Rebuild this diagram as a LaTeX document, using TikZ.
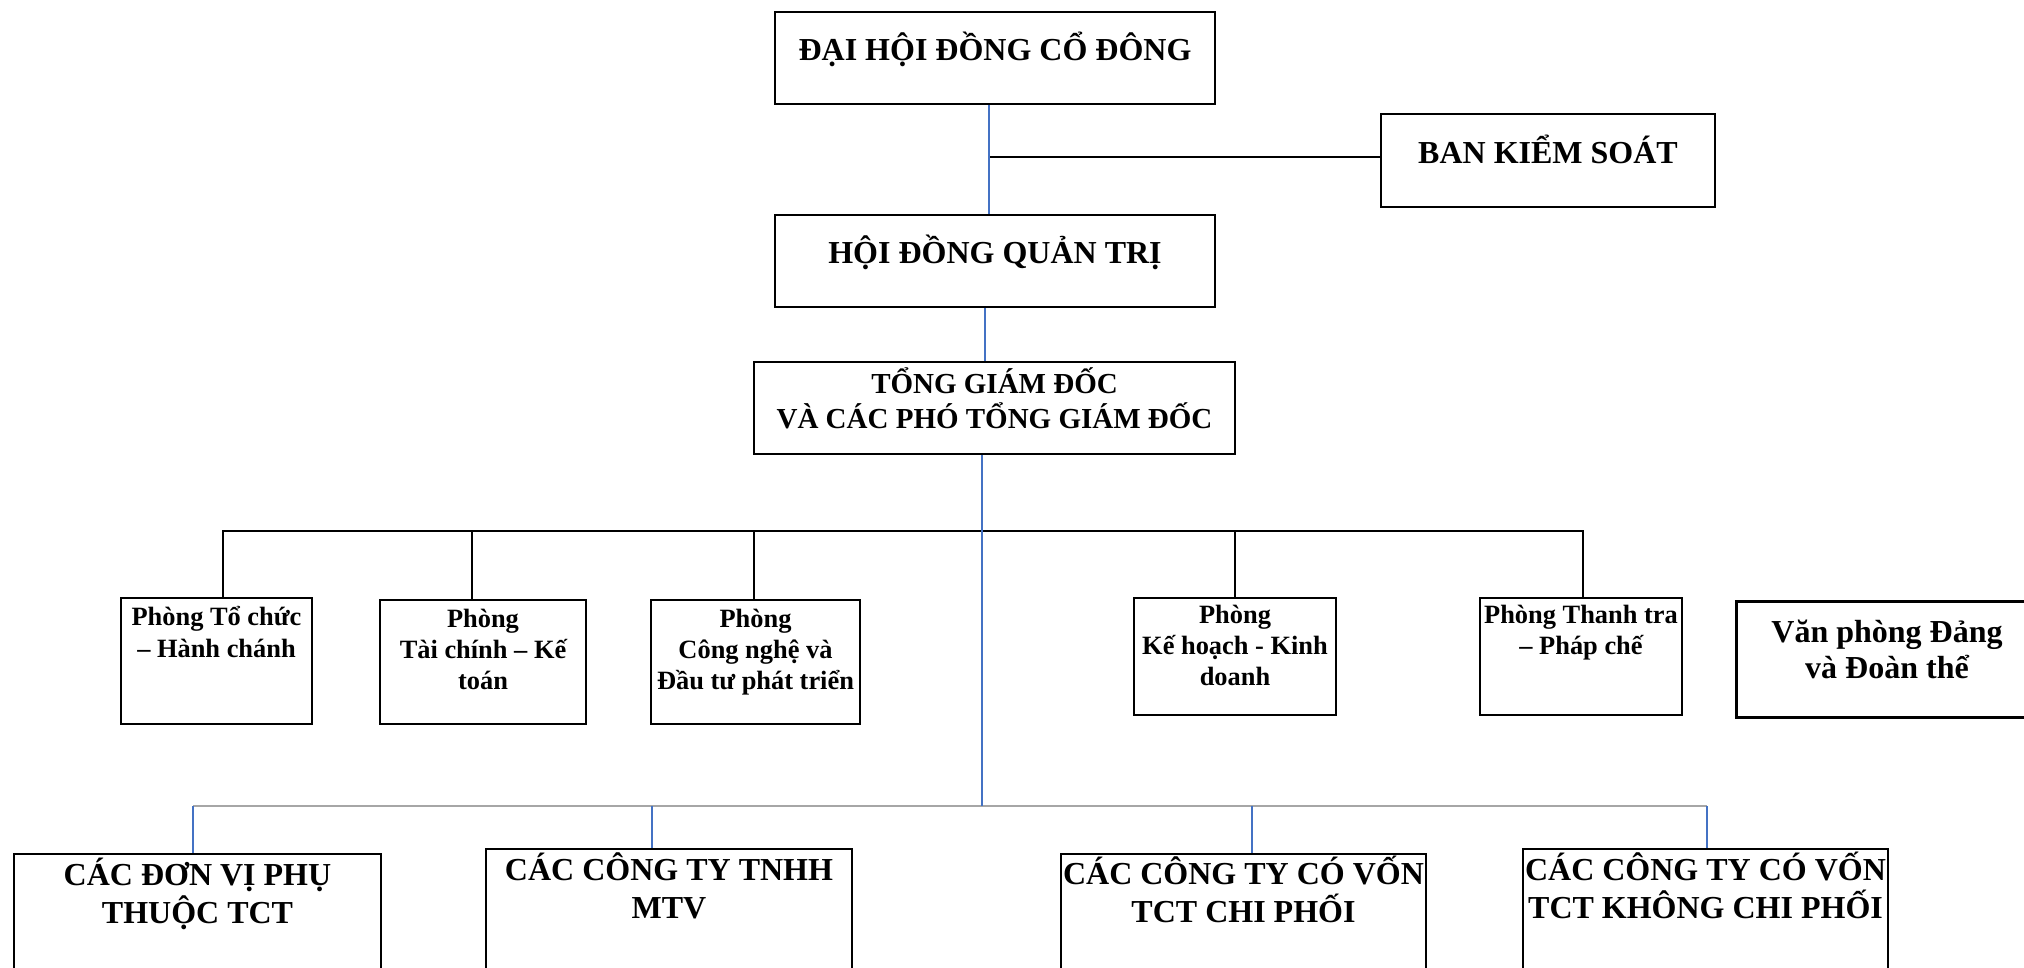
\documentclass[tikz,border=0pt]{standalone}
\usepackage{fontspec}
\setmainfont{Liberation Serif}
\usetikzlibrary{calc}
\definecolor{cblue}{HTML}{4472C4}
\definecolor{cgray}{HTML}{A6A6A6}
\tikzset{
  orgbox/.style={draw=black, line width=1pt, inner sep=0pt},
  lbl/.style={inner sep=0pt, align=center, anchor=north},
  blueline/.style={draw=cblue, line width=1pt},
  blackline/.style={draw=black, line width=1.1pt},
  grayline/.style={draw=cgray, line width=1.4pt},
}
% name, x1, y1, x2, y2 (pixels)
\newcommand{\mkbox}[6][]{%
  \node[orgbox,#1,minimum width={(#5-#3)*0.5pt},minimum height={(#6-#4)*0.5pt}] (#2) at ({(#3+#5)/2},{(#4+#6)/2}) {};}
% name, cx, baseline y (px), font size pt, skip pt, text
\newcommand{\mktext}[6]{%
  \node[lbl,font=\bfseries\fontsize{#4}{#5}\selectfont] (#1) at (#2,{#3-2.5*#4}) {\rule{0pt}{1.25em}#6};}
\begin{document}
\begin{tikzpicture}[x=0.5pt,y=-0.5pt]
\useasboundingbox (0,0) rectangle (2024,968);
\fill[white] (0,0) rectangle (2024,968);
\clip (0,0) rectangle (2024,968);

% boxes
\mkbox{dh}{775}{12}{1215}{104}
\mkbox{bks}{1381}{114}{1715}{207}
\mkbox{hdqt}{775}{215}{1215}{307}
\mkbox{tgd}{754}{362}{1235}{454}
\mkbox{p1}{121}{598}{312}{724}
\mkbox{p2}{380}{600}{586}{724}
\mkbox{p3}{651}{600}{860}{724}
\mkbox{p4}{1134}{598}{1336}{715}
\mkbox{p5}{1480}{598}{1682}{715}
\mkbox[line width=1.5pt]{vp}{1736}{601}{2040}{717}
\mkbox{b1}{14}{854}{381}{1000}
\mkbox{b2}{486}{849}{852}{1000}
\mkbox{b3}{1061}{854}{1426}{1000}
\mkbox{b4}{1523}{849}{1888}{1000}

% texts
\mktext{dh-t}{995}{60}{16}{19.2}{ĐẠI HỘI ĐỒNG CỔ ĐÔNG}
\mktext{bks-t}{1548}{163}{16}{19.2}{BAN KIỂM SOÁT}
\mktext{hdqt-t}{995}{263}{16}{19.2}{HỘI ĐỒNG QUẢN TRỊ}
\mktext{tgd-t}{994.5}{393}{14.5}{17.5}{TỔNG GIÁM ĐỐC\\VÀ CÁC PHÓ TỔNG GIÁM ĐỐC}
\mktext{p1-t}{216.5}{625}{13.2}{15.8}{Phòng Tổ chức\\– Hành chánh}
\mktext{p2-t}{483}{627}{13.2}{15.5}{Phòng\\Tài chính – Kế\\toán}
\mktext{p3-t}{755.5}{627}{13.2}{15.5}{Phòng\\Công nghệ và\\Đầu tư phát triển}
\mktext{p4-t}{1235}{623}{13.2}{15.5}{Phòng\\Kế hoạch - Kinh\\doanh}
\mktext{p5-t}{1581}{623}{13.2}{15.5}{Phòng Thanh tra\\– Pháp chế}
\mktext{vp-t}{1887}{642}{16}{18}{Văn phòng Đảng\\và Đoàn thể}
\mktext{b1-t}{197.5}{885}{16}{19}{CÁC ĐƠN VỊ PHỤ\\THUỘC TCT}
\mktext{b2-t}{669}{880}{16}{19}{CÁC CÔNG TY TNHH\\MTV}
\mktext{b3-t}{1243.5}{884}{16}{19}{CÁC CÔNG TY CÓ VỐN\\TCT CHI PHỐI}
\mktext{b4-t}{1705.5}{880}{16}{19}{CÁC CÔNG TY CÓ VỐN\\TCT KHÔNG CHI PHỐI}

% junction coordinates
\coordinate (j1) at (989,157);
\coordinate (j2) at (985,330);
\coordinate (d1) at (223,531);
\coordinate (d2) at (472,531);
\coordinate (d3) at (754,531);
\coordinate (d4) at (1235,531);
\coordinate (d5) at (1583,531);
\coordinate (e1) at (193,806);
\coordinate (e2) at (652,806);
\coordinate (e3) at (1252,806);
\coordinate (e4) at (1707,806);
\coordinate (m) at (982,806);

% top connectors
\draw[blackline] (j1) -- (j1 -| bks.west);
\draw[blueline] (dh.south -| j1) -- (hdqt.north -| j1);
\draw[blueline] (hdqt.south -| j2) -- (tgd.north -| j2);

% department bus
\draw[blackline] (p1.north -| d1) -- (d1) -- (d5) -- (p5.north -| d5);
\draw[blackline] (d2) -- (p2.north -| d2);
\draw[blackline] (d3) -- (p3.north -| d3);
\draw[blackline] (d4) -- (p4.north -| d4);

% subsidiaries bus
\draw[grayline] (e1) -- (e4);
\draw[blueline] (e1) -- (b1.north -| e1);
\draw[blueline] (e2) -- (b2.north -| e2);
\draw[blueline] (e3) -- (b3.north -| e3);
\draw[blueline] (e4) -- (b4.north -| e4);

% main vertical
\draw[blueline] (tgd.south -| m) -- (m);
\end{tikzpicture}
\end{document}
